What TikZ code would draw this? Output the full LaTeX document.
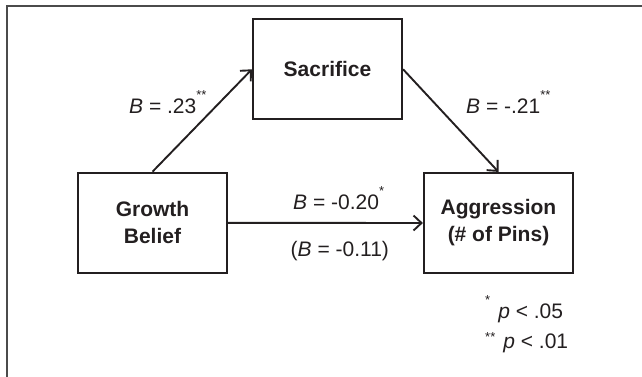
\documentclass[tikz,border=0pt]{standalone}
\usepackage{fontspec}
\setmainfont{Liberation Sans}
\usetikzlibrary{arrows.meta}

\definecolor{inkcol}{RGB}{35,31,32}
\definecolor{framecol}{RGB}{75,75,75}
\newcommand{\sigmark}[1]{\raisebox{14pt}{\fontsize{13}{13}\selectfont #1}}

\begin{document}
\begin{tikzpicture}[x=1pt, y=1pt, >={Straight Barb[length=8pt,width=15pt]},
	varbox/.style={rectangle, draw=inkcol, line width=2.2pt, minimum width=149pt, minimum height=100pt, align=center, font=\fontsize{21}{27}\selectfont\bfseries, text=inkcol},
	path/.style={->, draw=inkcol, line width=1.9pt},
	coef/.style={font=\fontsize{21}{25}\selectfont, text=inkcol, inner sep=0pt, anchor=base west}]
	\useasboundingbox (0,0) rectangle (642,-376);
	\draw [framecol, line width=2pt] (6.5,-5.5) rectangle (720,-440);
	% the three variables
	\node [varbox] (sacrifice) at (327.5,-69.3) {Sacrifice};
	\node [varbox] (growth) at (152.5,-222.8) {Growth\\Belief};
	\node [varbox] (aggression) at (498.5,-223) {Aggression\\(\# of Pins)};
	% paths
	\draw [path] (growth.north) -- (sacrifice.west);
	\draw [path] (sacrifice.east) -- (aggression.north);
	\draw [path] (growth.east) -- (aggression.west);
	% coefficients
	\node [coef] (apath) at (129,-113.3) {\textit{B} = .23\sigmark{**}};
	\node [coef] (bpath) at (466,-113.3) {\textit{B} = -.21\sigmark{**}};
	\node [coef] (cpath) at (293,-209) {\textit{B} = -0.20\sigmark{*}};
	\node [coef] (cprime) at (290.5,-256) {(\textit{B} = -0.11)};
	% note
	\node [coef] (note1) at (485,-318) {\sigmark{*}\hspace{8pt}\textit{p} < .05};
	\node [coef] (note2) at (485,-348) {\raisebox{-7pt}{\sigmark{**}}\hspace{8pt}\textit{p} < .01};
\end{tikzpicture}
\end{document}
